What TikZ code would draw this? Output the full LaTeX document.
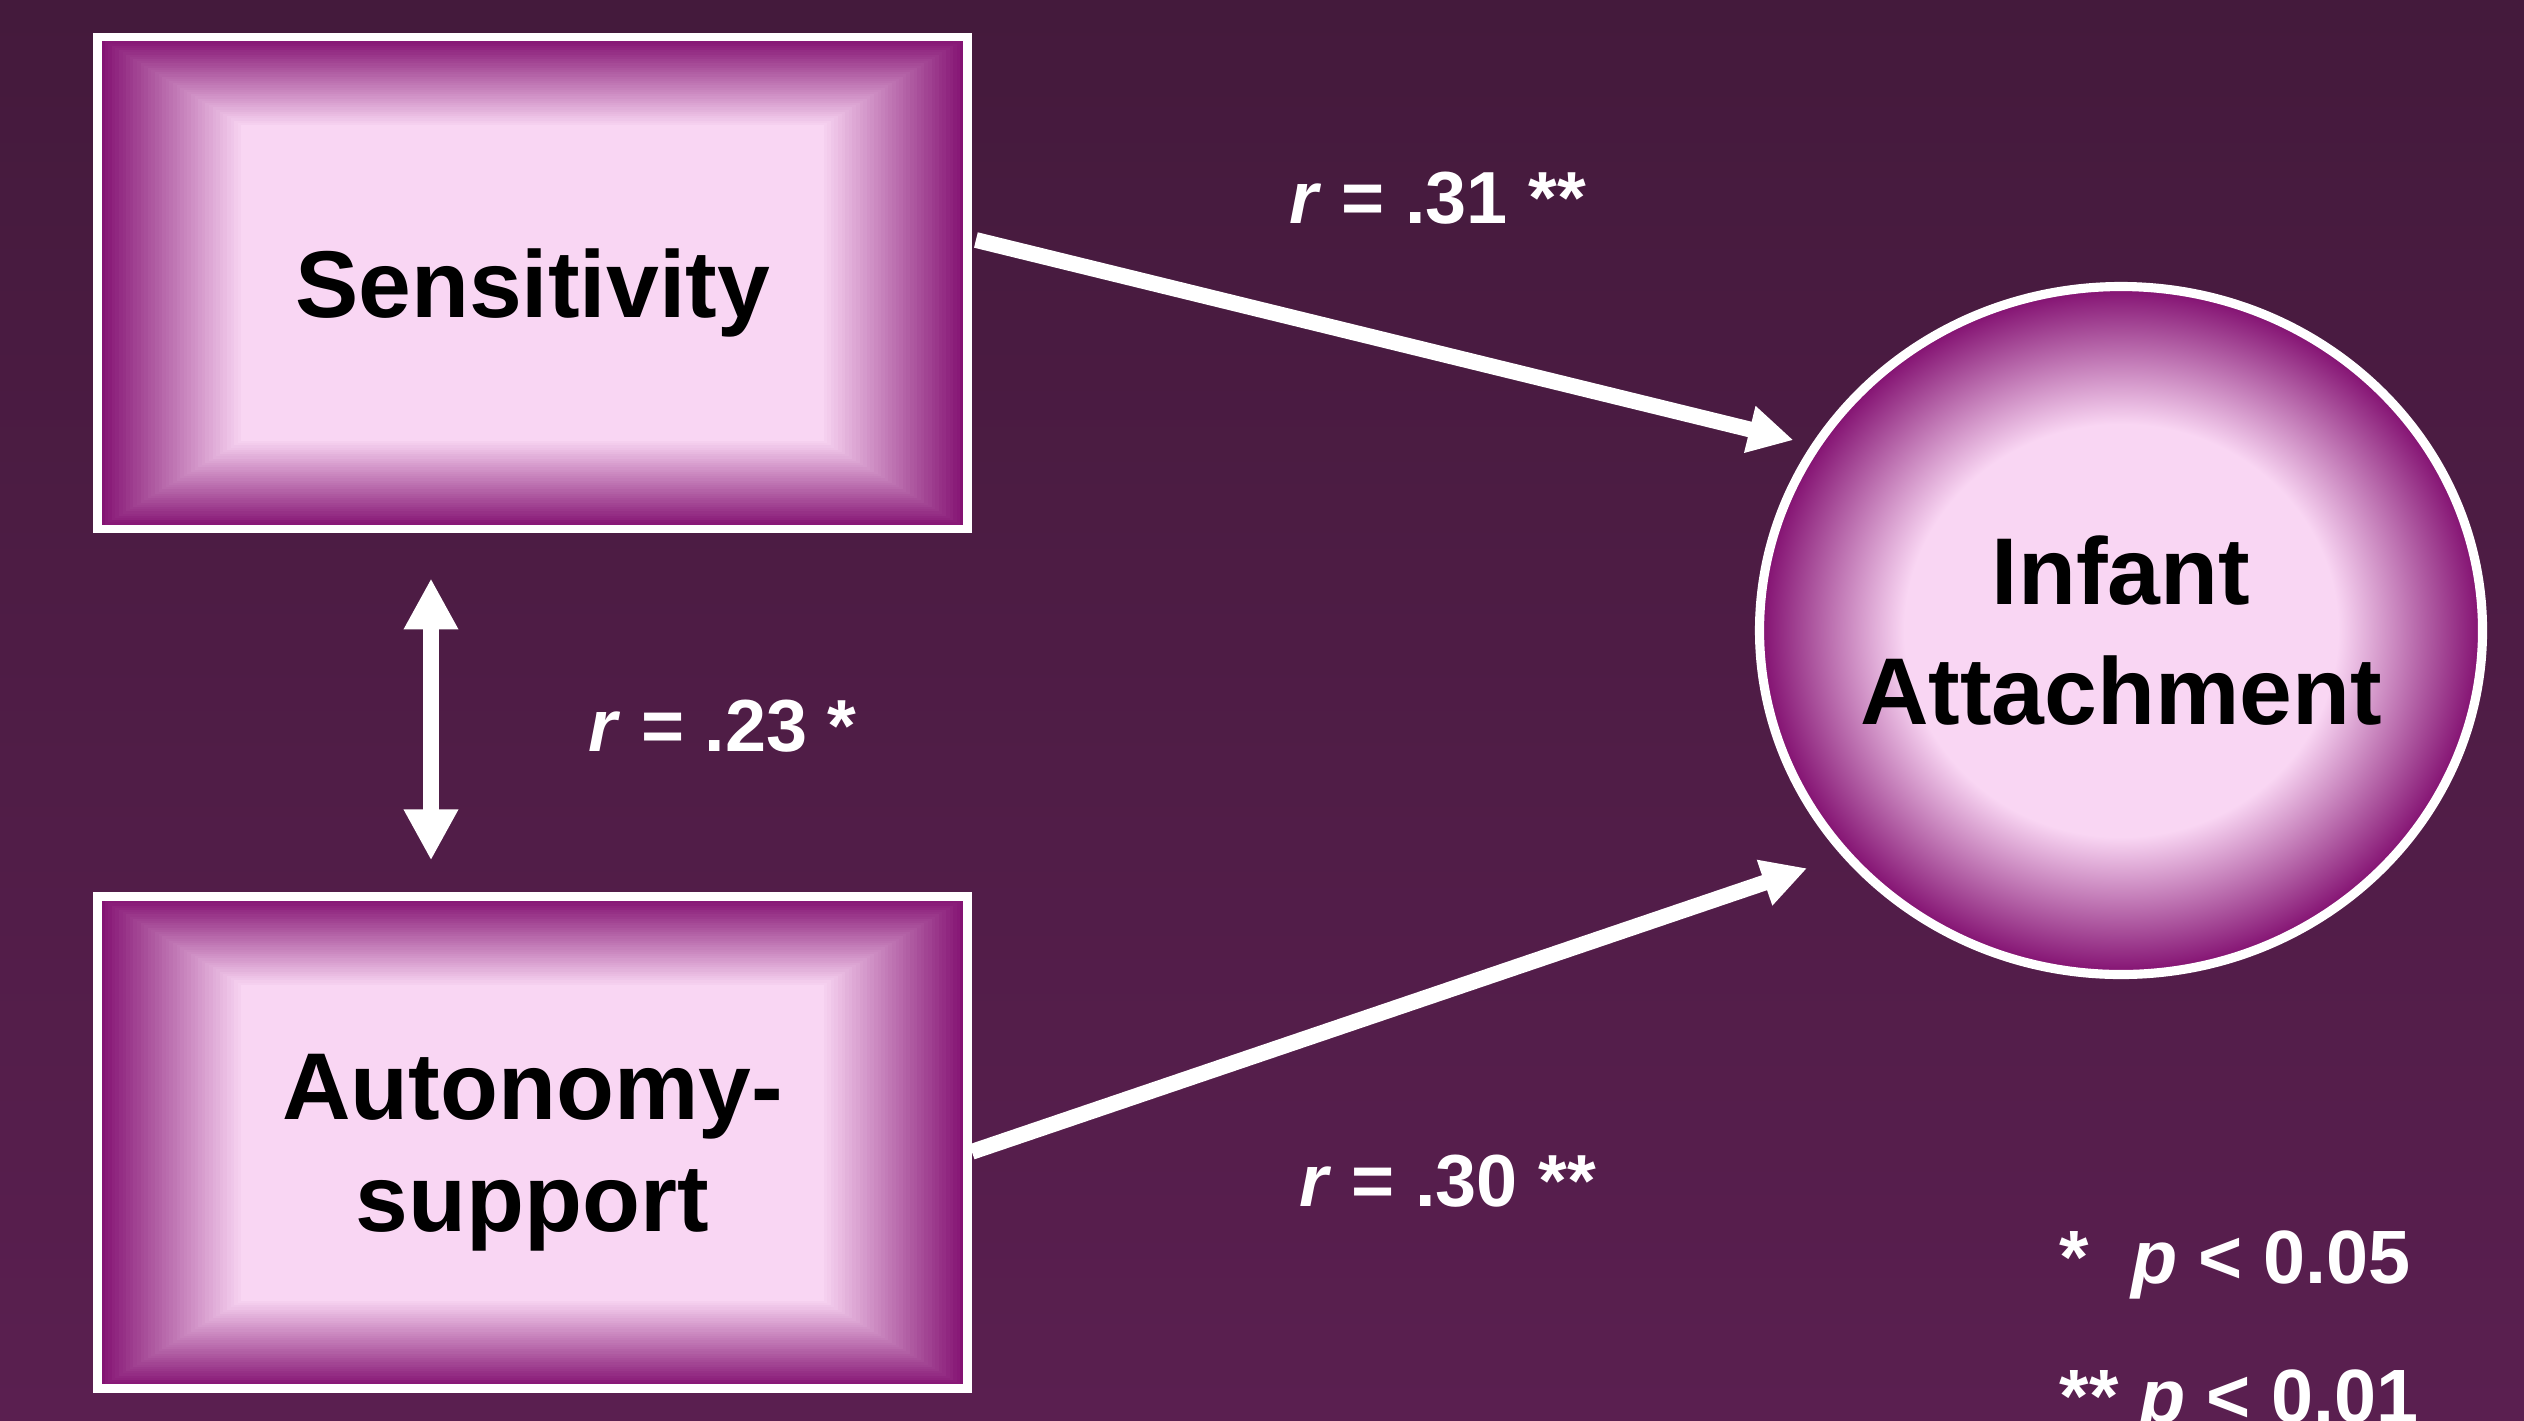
\documentclass[tikz,border=0pt]{standalone}
\usepackage{fontspec}
\setmainfont{Liberation Sans}
\usepackage{tikz}
\usetikzlibrary{arrows.meta,positioning,calc,shapes.geometric}
\definecolor{bgtop}{HTML}{441A3C}
\definecolor{bgbottom}{HTML}{5A1F50}
\definecolor{plum}{HTML}{820F70}
\definecolor{blush}{HTML}{F9D6F3}
\pgfdeclareradialshading{glow}{\pgfpointorigin}{color(0bp)=(blush); color(15bp)=(blush); color(25bp)=(plum); color(50bp)=(plum)}

\begin{document}
\begin{tikzpicture}[
  factor/.style={rectangle, draw=white, line width=2.5pt, align=center,
                 minimum width=8.7cm, minimum height=4.92cm, text depth=0pt,
                 font=\fontsize{27}{32}\selectfont\bfseries,
                 path picture={
                   \foreach \k [evaluate=\k as \mix using int(100*\k/40)] in {0,...,40}
                     \fill[blush!\mix!plum]
                       ($(path picture bounding box.south west)+(\k*0.036cm,\k*0.022cm)$) rectangle
                       ($(path picture bounding box.north east)-(\k*0.036cm,\k*0.022cm)$);
                 }},
  outcome/.style={ellipse, draw=white, line width=2.6pt, shade, shading=glow, align=center,
                  minimum width=7.23cm, minimum height=6.88cm, inner sep=-2mm,
                  font=\fontsize{27}{34}\selectfont\bfseries},
  arrow/.style={-{Triangle[length=0.45cm, width=0.45cm]}, line width=4.5pt, draw=white},
  corr/.style={{Triangle[length=0.51cm, width=0.51cm]}-{Triangle[length=0.51cm, width=0.51cm]},
               line width=4.8pt, draw=white},
  stat/.style={text=white, anchor=base, inner sep=0pt, font=\fontsize{21}{25}\selectfont\bfseries},
  key/.style={text=white, anchor=base west, inner sep=0pt, font=\fontsize{21.5}{26}\selectfont\bfseries}
]
  \useasboundingbox (0,0) rectangle (25.24,-14.20);
  \shade[top color=bgtop, bottom color=bgbottom] (0,0) rectangle (25.24,-14.20);

  \node[factor] (sensitivity) at (5.325,-2.83) {Sensitivity};
  \node[factor, below=3.59cm of sensitivity] (autonomy) {Autonomy-\\support};
  \node[outcome] (attachment) at (21.21,-6.305) {Infant\\Attachment};

  \draw[arrow, shorten >=0.185cm] ([xshift=0.04cm, yshift=0.43cm]sensitivity.east) -- (attachment.149.2);
  \draw[arrow, shorten >=0.37cm] ([yshift=-0.09cm]autonomy.east) -- (attachment.219.7);
  \draw[corr] ([xshift=-1.015cm, yshift=-0.45cm]sensitivity.south) -- ([xshift=-1.015cm, yshift=0.32cm]autonomy.north);

  \node[stat] (r31) at (14.375,-2.23) {\textit{r} = .31 **};
  \node[stat] (r23) at (7.225,-7.51) {\textit{r} = .23 *};
  \node[stat] (r30) at (14.475,-12.06) {\textit{r} = .30 **};

  \node[key] (p05) at (20.59,-12.83) {*\ \ \textit{p} < 0.05};
  \node[key] (p01) at (20.59,-14.22) {** \textit{p} < 0.01};
\end{tikzpicture}
\end{document}
